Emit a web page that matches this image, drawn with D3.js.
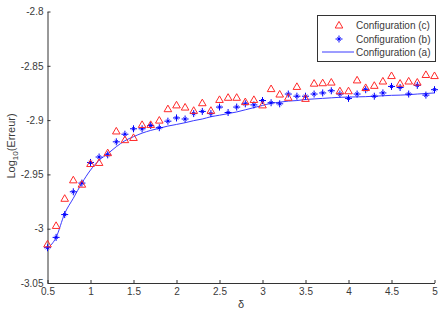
<!DOCTYPE html>
<html><head><meta charset="utf-8">
<script src="https://cdn.jsdelivr.net/npm/d3@7"></script>
<style>
html,body{margin:0;padding:0;background:#fff;}
svg{display:block;font-family:"Liberation Sans",Arial,Helvetica,sans-serif;}
</style></head>
<body>
<script>
const deltas = [0.5,0.6,0.7,0.8,0.9,1.0,1.1,1.2,1.3,1.4,1.5,1.6,1.7,1.8,1.9,2.0,2.1,2.2,2.3,2.4,2.5,2.6,2.7,2.8,2.9,3.0,3.1,3.2,3.3,3.4,3.5,3.6,3.7,3.8,3.9,4.0,4.1,4.2,4.3,4.4,4.5,4.6,4.7,4.8,4.9,5.0];
const confC = [-3.014,-2.997,-2.972,-2.955,-2.959,-2.940,-2.939,-2.930,-2.910,-2.918,-2.916,-2.904,-2.904,-2.900,-2.8895,-2.886,-2.888,-2.891,-2.884,-2.891,-2.881,-2.879,-2.879,-2.883,-2.881,-2.886,-2.871,-2.876,-2.879,-2.869,-2.880,-2.866,-2.8656,-2.865,-2.873,-2.873,-2.863,-2.870,-2.868,-2.864,-2.859,-2.866,-2.864,-2.865,-2.858,-2.859];
const confB = [-3.0175,-3.008,-2.987,-2.966,-2.958,-2.939,-2.934,-2.932,-2.920,-2.913,-2.908,-2.908,-2.905,-2.907,-2.901,-2.898,-2.899,-2.894,-2.892,-2.894,-2.888,-2.893,-2.888,-2.885,-2.886,-2.882,-2.884,-2.885,-2.876,-2.878,-2.878,-2.876,-2.875,-2.873,-2.876,-2.880,-2.876,-2.872,-2.878,-2.875,-2.869,-2.870,-2.876,-2.868,-2.877,-2.872];
const confA = [-3.018,-3.008,-2.986,-2.972,-2.958,-2.946,-2.937,-2.931,-2.9245,-2.919,-2.9153,-2.912,-2.9095,-2.9075,-2.9055,-2.904,-2.9024,-2.9005,-2.899,-2.8969,-2.8955,-2.894,-2.8925,-2.8905,-2.8885,-2.8865,-2.8845,-2.8835,-2.8825,-2.882,-2.881,-2.8805,-2.880,-2.8795,-2.879,-2.8788,-2.8786,-2.8784,-2.878,-2.8776,-2.8772,-2.877,-2.8766,-2.876,-2.8755,-2.875];
const xTicks = [0.5,1,1.5,2,2.5,3,3.5,4,4.5,5];
const yTicks = [-3.05,-3,-2.95,-2.9,-2.85,-2.8];
const legendLabels = ["Configuration (c)","Configuration (b)","Configuration (a)"];

const W = 442, H = 314;
const svg = d3.select("body").append("svg").attr("width", W).attr("height", H);
svg.append("rect").attr("width", W).attr("height", H).attr("fill", "#fff");

const x = d3.scaleLinear().domain([0.5, 5]).range([47.5, 434.5]);
const y = d3.scaleLinear().domain([-3.05, -2.8]).range([283, 11.5]);
const axisColor = "#333";

const xAxis = svg.append("g").attr("transform", `translate(0,${y(-3.05)})`)
  .call(d3.axisBottom(x).tickValues(xTicks).tickFormat(d3.format("")).tickSize(-3).tickSizeOuter(0).tickPadding(5));
const yAxis = svg.append("g").attr("transform", `translate(${x(0.5)},0)`)
  .call(d3.axisLeft(y).tickValues(yTicks).tickFormat(d => String(d)).tickSize(-3).tickSizeOuter(0).tickPadding(4));
[xAxis, yAxis].forEach(g => {
  g.select(".domain").attr("stroke", axisColor);
  g.selectAll(".tick line").attr("stroke", axisColor);
  g.selectAll(".tick text").attr("fill", "#3a3a3a").attr("font-size", 10).attr("font-family", "Liberation Sans, Arial, sans-serif");
});

// curve (a)
svg.append("path")
  .datum(deltas.map((d, i) => [d, confA[i]]))
  .attr("fill", "none").attr("stroke", "#3a3aff").attr("stroke-width", 1)
  .attr("d", d3.line().x(d => x(d[0])).y(d => y(d[1])).curve(d3.curveMonotoneX));

function starPath(cx, cy) {
  const a = 3.5, b = 1.6;
  return `M${cx-a},${cy}L${cx+a},${cy}M${cx},${cy-a}L${cx},${cy+a}` +
         `M${cx-b},${cy-b}L${cx+b},${cy+b}M${cx-b},${cy+b}L${cx+b},${cy-b}`;
}
function triPath(cx, cy) {
  const h = 3.6, w = 3.8;
  return `M${cx},${cy-h}L${cx+w},${cy+h-0.6}L${cx-w},${cy+h-0.6}Z`;
}

// series (b)
svg.append("g").selectAll("path").data(deltas.map((d, i) => [d, confB[i]])).join("path")
  .attr("d", d => starPath(x(d[0]), y(d[1])))
  .attr("stroke", "#0000ff").attr("stroke-width", 1).attr("fill", "none");

// series (c)
svg.append("g").selectAll("path").data(deltas.map((d, i) => [d, confC[i]])).join("path")
  .attr("d", d => triPath(x(d[0]), y(d[1])))
  .attr("stroke", "#ff2a2a").attr("stroke-width", 1).attr("fill", "none");

// axis labels
svg.append("text").attr("x", 241).attr("y", 308).attr("text-anchor", "middle")
  .attr("font-size", 11).attr("fill", "#3a3a3a").text("δ");
const yl = svg.append("text").attr("transform", "translate(15,146) rotate(-90)")
  .attr("text-anchor", "middle").attr("font-size", 11).attr("fill", "#3a3a3a");
yl.append("tspan").text("Log");
yl.append("tspan").attr("font-size", 8).attr("dy", 3).text("10");
yl.append("tspan").attr("dy", -3).text("(Erreur)");

// legend
const lg = svg.append("g");
lg.append("rect").attr("x", 317.5).attr("y", 15.5).attr("width", 118).attr("height", 46)
  .attr("fill", "#fff").attr("stroke", "#333").attr("stroke-width", 1);
const rows = [25, 39, 52];
lg.append("path").attr("d", triPath(339, rows[0])).attr("stroke", "#ff2a2a").attr("fill", "none");
lg.append("path").attr("d", starPath(339, rows[1])).attr("stroke", "#0000ff").attr("fill", "none");
lg.append("line").attr("x1", 322).attr("x2", 354).attr("y1", rows[2]).attr("y2", rows[2])
  .attr("stroke", "#3a3aff").attr("stroke-width", 1);
legendLabels.forEach((t, i) => {
  lg.append("text").attr("x", 356).attr("y", rows[i] + 3.5).attr("font-size", 10)
    .attr("fill", "#3a3a3a").text(t);
});
</script>
</body></html>
